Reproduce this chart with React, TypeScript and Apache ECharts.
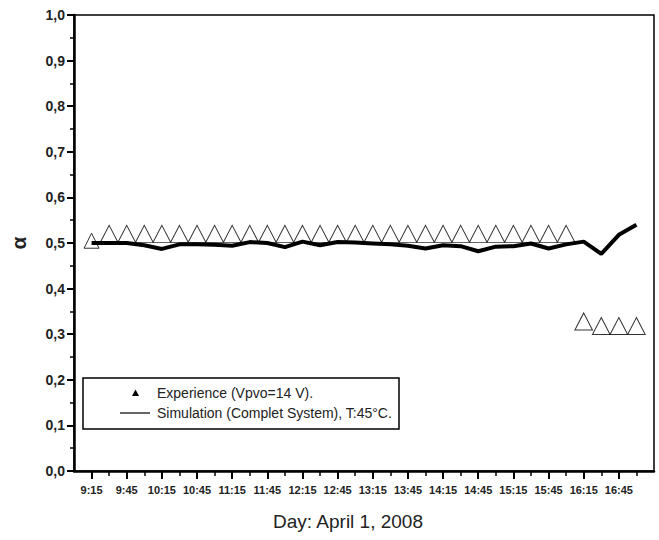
import React, { useEffect, useRef } from "react";
import * as echarts from "echarts";

// x categories: every 15 minutes from 9:00 to 17:15
const times = [
  "9:00", "9:15", "9:30", "9:45", "10:00", "10:15", "10:30", "10:45",
  "11:00", "11:15", "11:30", "11:45", "12:00", "12:15", "12:30", "12:45",
  "13:00", "13:15", "13:30", "13:45", "14:00", "14:15", "14:30", "14:45",
  "15:00", "15:15", "15:30", "15:45", "16:00", "16:15", "16:30", "16:45",
  "17:00", "17:15",
];

// measurement / simulation instants
const sampleTimes = [
  "9:15", "9:30", "9:45", "10:00", "10:15", "10:30", "10:45", "11:00",
  "11:15", "11:30", "11:45", "12:00", "12:15", "12:30", "12:45", "13:00",
  "13:15", "13:30", "13:45", "14:00", "14:15", "14:30", "14:45", "15:00",
  "15:15", "15:30", "15:45", "16:00", "16:15", "16:30", "16:45", "17:00",
];

const experience = [
  0.505, 0.52, 0.52, 0.52, 0.52, 0.52, 0.52, 0.52,
  0.52, 0.52, 0.52, 0.52, 0.52, 0.52, 0.52, 0.52,
  0.52, 0.52, 0.52, 0.52, 0.52, 0.52, 0.52, 0.52,
  0.52, 0.52, 0.52, 0.52, 0.328, 0.318, 0.318, 0.318,
];

const simulation = [
  0.5, 0.5, 0.5, 0.495, 0.487, 0.497, 0.497, 0.496,
  0.494, 0.502, 0.5, 0.491, 0.503, 0.495, 0.502, 0.501,
  0.499, 0.497, 0.494, 0.488, 0.495, 0.493, 0.482, 0.492,
  0.493, 0.499, 0.488, 0.497, 0.503, 0.476, 0.518, 0.54,
];

const legendLabels = ["Experience (Vpvo=14 V).", "Simulation (Complet System), T:45°C."];
const xTitle = "Day: April 1, 2008";
const yTitle = "α";

const FONT = '"Liberation Sans", Arial, "DejaVu Sans", sans-serif';

export default function App() {
  const ref = useRef<HTMLDivElement>(null);

  useEffect(() => {
    if (!ref.current) return;
    const chart = echarts.init(ref.current, null, { renderer: "svg" });

    const expData = sampleTimes.map((t, i) => {
      const item: any = { value: [t, experience[i]] };
      if (i === 0) item.symbolSize = [15, 15];
      return item;
    });
    const simData = sampleTimes.map((t, i) => [t, simulation[i]]);

    const majorTick = (i: number) => i % 2 === 1 && i < times.length - 1;
    const minorTick = (i: number) => i % 2 === 0 && i > 0 && i < times.length - 1;

    chart.setOption({
      animation: false,
      backgroundColor: "#fff",
      grid: {
        left: 74,
        right: 5,
        top: 15,
        bottom: 69,
        show: true,
        borderColor: "#000",
        borderWidth: 1.5,
      },
      xAxis: [
        {
          type: "category",
          data: times,
          boundaryGap: false,
          axisLine: { show: true, lineStyle: { color: "#000", width: 2.5 } },
          axisTick: { show: true, interval: majorTick, length: 8, lineStyle: { color: "#000", width: 2 } },
          axisLabel: {
            show: true,
            interval: majorTick,
            margin: 13,
            fontSize: 11,
            fontWeight: "bold",
            fontFamily: FONT,
            color: "#222",
          },
          splitLine: { show: false },
        },
        {
          type: "category",
          data: times,
          boundaryGap: false,
          position: "bottom",
          axisLine: { show: false },
          axisTick: { show: true, interval: minorTick, length: 5, lineStyle: { color: "#000", width: 1.5 } },
          axisLabel: { show: false },
          splitLine: { show: false },
        },
      ],
      yAxis: {
        type: "value",
        min: 0,
        max: 1,
        interval: 0.1,
        axisLine: { show: true, lineStyle: { color: "#000", width: 2.5 } },
        axisTick: { show: true, length: 7, lineStyle: { color: "#000", width: 2 } },
        minorTick: { show: true, splitNumber: 2, length: 4, lineStyle: { color: "#000", width: 1.5 } },
        splitLine: { show: false },
        minorSplitLine: { show: false },
        axisLabel: {
          margin: 9,
          fontSize: 14,
          fontWeight: "bold",
          fontFamily: FONT,
          color: "#222",
          formatter: (v: number) => v.toFixed(1).replace(".", ","),
        },
      },
      series: [
        {
          name: legendLabels[0],
          type: "scatter",
          xAxisIndex: 0,
          symbol: "triangle",
          symbolSize: [17.6, 17],
          itemStyle: { color: "#fff", borderColor: "#000", borderWidth: 1 },
          data: expData,
          z: 2,
        },
        {
          name: legendLabels[1],
          type: "line",
          xAxisIndex: 0,
          showSymbol: false,
          symbol: "none",
          lineStyle: { color: "#000", width: 4 },
          data: simData,
          z: 3,
        },
      ],
      graphic: [
        {
          type: "rect",
          z: 10,
          shape: { x: 83, y: 378, width: 316, height: 51 },
          style: { fill: "#fff", stroke: "#000", lineWidth: 1.5 },
        },
        {
          type: "polygon",
          z: 11,
          shape: { points: [[135.5, 389.5], [139, 396], [132, 396]] },
          style: { fill: "#000" },
        },
        {
          type: "line",
          z: 11,
          shape: { x1: 120, y1: 413, x2: 150, y2: 413 },
          style: { stroke: "#000", lineWidth: 1.2 },
        },
        {
          type: "text",
          z: 11,
          x: 157,
          y: 393,
          style: {
            text: legendLabels[0],
            fontSize: 14,
            fontFamily: FONT,
            fill: "#222",
            verticalAlign: "middle",
          },
        },
        {
          type: "text",
          z: 11,
          x: 157,
          y: 413,
          style: {
            text: legendLabels[1],
            fontSize: 14,
            fontFamily: FONT,
            fill: "#222",
            verticalAlign: "middle",
          },
        },
        {
          type: "text",
          x: 348,
          y: 521,
          style: {
            text: xTitle,
            fontSize: 19,
            fontFamily: FONT,
            fill: "#222",
            align: "center",
            verticalAlign: "middle",
          },
        },
        {
          type: "text",
          x: 18,
          y: 243,
          rotation: Math.PI / 2,
          style: {
            text: yTitle,
            fontSize: 21,
            fontWeight: "bold",
            fontFamily: FONT,
            fill: "#222",
            align: "center",
            verticalAlign: "middle",
          },
        },
      ],
    });

    return () => chart.dispose();
  }, []);

  return (
    <div
      ref={ref}
      style={{ position: "fixed", left: 0, top: 0, width: 659, height: 540 }}
    />
  );
}
